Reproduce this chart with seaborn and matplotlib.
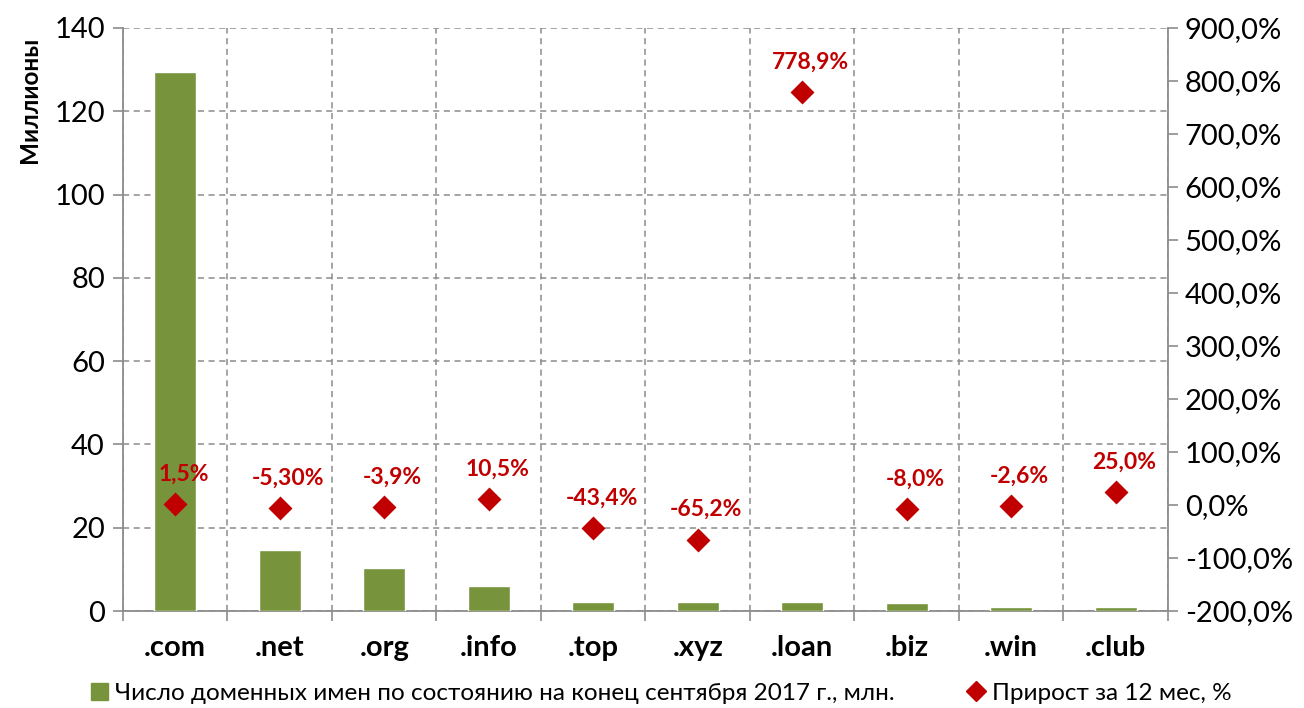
import matplotlib
matplotlib.use("Agg")
import matplotlib.pyplot as plt
import seaborn as sns
import pandas as pd
import numpy as np
from matplotlib.ticker import FuncFormatter, MultipleLocator, FixedLocator
from matplotlib.lines import Line2D
from matplotlib.patches import Patch

categories = [".com", ".net", ".org", ".info", ".top", ".xyz", ".loan", ".biz", ".win", ".club"]
domains_mln = [129.4, 14.7, 10.4, 6.0, 2.2, 2.2, 2.1, 2.0, 1.0, 1.0]
growth_pct = [1.5, -5.3, -3.9, 10.5, -43.4, -65.2, 778.9, -8.0, -2.6, 25.0]
growth_labels = ["1,5%", "-5,30%", "-3,9%", "10,5%", "-43,4%", "-65,2%", "778,9%", "-8,0%", "-2,6%", "25,0%"]
bar_legend = "Число доменных имен по состоянию на конец сентября 2017 г., млн."
pt_legend = "Прирост за 12 мес, %"
y_label = "Миллионы"

sns.set_theme(style="white")
plt.rcParams['font.family'] = ['Lato', 'DejaVu Sans']
plt.rcParams['text.color'] = 'black'
plt.rcParams['axes.labelcolor'] = 'black'

GREEN = "#77933C"
RED = "#C00000"
GRID = "#8c8c8c"

df = pd.DataFrame({"tld": categories, "mln": domains_mln, "pct": growth_pct})

fig = plt.figure(figsize=(13.04, 7.08), dpi=100)
ax = fig.add_axes([0.0943, 0.137, 0.8014, 0.8235])

sns.barplot(data=df, x="tld", y="mln", color=GREEN, width=0.4, saturation=1, ax=ax, zorder=3)
ax.set_ylim(0, 140)
ax.set_xlim(-0.5, len(categories) - 0.5)
ax.yaxis.set_major_locator(MultipleLocator(20))
ax.set_ylabel("")
ax.set_xlabel("")

ax2 = ax.twinx()
sns.pointplot(data=df, x="tld", y="pct", color=RED, markers="D", linestyle="none",
              markersize=10.5, ax=ax2, zorder=5)
ax2.set_ylim(-200, 900)
ax2.set_xlim(-0.5, len(categories) - 0.5)
ax2.yaxis.set_major_locator(MultipleLocator(100))
ax2.yaxis.set_major_formatter(FuncFormatter(lambda v, p: f"{v:.1f}%".replace(".", ",")))
ax2.set_ylabel("")
ax2.set_xlabel("")

for i, (v, lab) in enumerate(zip(growth_pct, growth_labels)):
    ax2.annotate(lab, (i, v), xytext=(6, 14), textcoords="offset points", ha="center",
                 va="bottom", color=RED, fontsize=16.5, fontweight="bold")

# grid
ax.grid(False)
ax2.grid(False)
ax.yaxis.grid(True, linestyle=(0, (4, 3)), color=GRID, linewidth=1.1, zorder=0)
ax.xaxis.set_minor_locator(FixedLocator(np.arange(-0.5, len(categories), 1.0)))
ax.xaxis.grid(True, which="minor", linestyle=(0, (4, 3)), color=GRID, linewidth=1.1, zorder=0)
ax.set_axisbelow(True)

for a in (ax, ax2):
    for s in a.spines.values():
        s.set_visible(False)
ax.spines["left"].set_visible(True)
ax.spines["left"].set_color(GRID)
ax.spines["left"].set_linewidth(1.3)
ax.spines["bottom"].set_visible(True)
ax.spines["bottom"].set_color(GRID)
ax.spines["bottom"].set_linewidth(1.3)
ax2.spines["right"].set_visible(True)
ax2.spines["right"].set_color(GRID)
ax2.spines["right"].set_linewidth(1.3)

ax.tick_params(axis="y", which="major", direction="out", length=7, width=1.2, color=GRID,
               labelsize=21, labelcolor="black", left=True, pad=6)
ax.tick_params(axis="x", which="major", length=0, labelsize=21, labelcolor="black", pad=17)
ax.tick_params(axis="x", which="minor", direction="out", length=7, width=1.2, color=GRID, bottom=True)
for t in ax.get_xticklabels():
    t.set_fontweight("bold")
ax2.tick_params(axis="y", direction="out", length=7, width=1.2, color=GRID,
                labelsize=21, labelcolor="black", right=True, pad=5)
ax2.tick_params(axis="x", which="both", length=0, labelbottom=False)

fig.text(0.023, 0.859, y_label, rotation=90, ha="center", va="center",
         fontsize=17.5, fontweight="bold", color="black")

handles = [Patch(facecolor=GREEN, edgecolor=GREEN),
           Line2D([], [], marker="D", color=RED, linestyle="none", markersize=10)]
fig.legend(handles, [bar_legend, pt_legend], loc="center", bbox_to_anchor=(0.507, 0.021),
           ncol=2, frameon=False, fontsize=17.5, handlelength=0.7, handletextpad=0.3,
           columnspacing=3.0, handleheight=0.7, borderpad=0, labelcolor="black")

fig.savefig("out.png", dpi=100)
